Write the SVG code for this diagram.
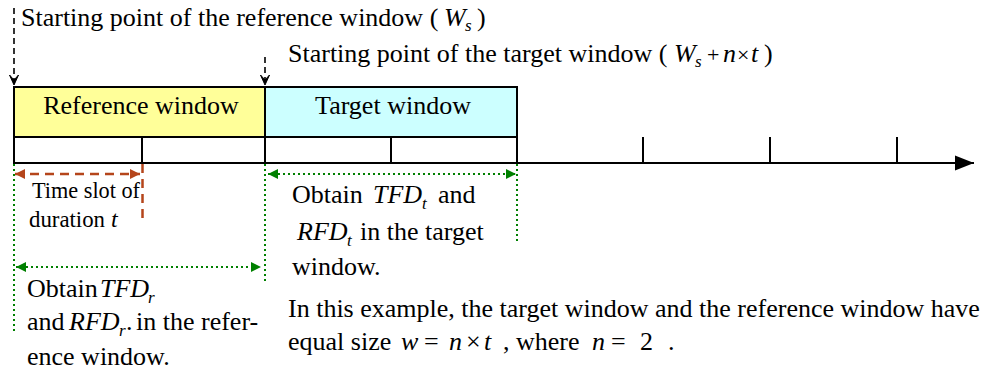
<svg xmlns="http://www.w3.org/2000/svg" width="984" height="376" viewBox="0 0 984 376">
<style>
text{font-family:'Liberation Serif',Tinos,'Times New Roman',Times,'DejaVu Serif',serif;font-size:26px;fill:#000}
.it{font-style:italic}
.sub{font-style:italic;font-size:17px}
.small{font-size:24px}
.box{stroke:#000;stroke-width:2}
.tick{stroke:#000;stroke-width:2}
.dash{stroke:#000;stroke-width:1.6;stroke-dasharray:6 4;fill:none}
.brown{stroke:#B5451B;stroke-width:2.5;stroke-dasharray:9 6;fill:none}
.green{stroke:#008000;stroke-width:2;stroke-dasharray:2 3;fill:none}
</style>
<defs>
<marker id="vArrowDown" markerUnits="userSpaceOnUse" markerWidth="12" markerHeight="14" refX="6" refY="12" viewBox="0 0 12 14">
<path d="M1.5,2 L6,12 L10.5,2 L6,7 Z" fill="#000" stroke="#000" stroke-width="1"/>
</marker>
<marker id="brownTri" markerUnits="userSpaceOnUse" markerWidth="11" markerHeight="10" refX="10" refY="5" orient="auto-start-reverse" viewBox="0 0 11 10">
<path d="M0,0 L10,5 L0,10 Z" fill="#B5451B"/>
</marker>
<marker id="greenTri" markerUnits="userSpaceOnUse" markerWidth="11" markerHeight="10" refX="10" refY="5" orient="auto-start-reverse" viewBox="0 0 11 10">
<path d="M0,0 L10,5 L0,10 Z" fill="#008000"/>
</marker>
<marker id="axisTri" markerUnits="userSpaceOnUse" markerWidth="20" markerHeight="16" refX="19" refY="8" orient="auto" viewBox="0 0 20 16">
<path d="M0,0.5 L19,8 L0,15.5 Z" fill="#000"/>
</marker>
</defs>

<g id="reference-window">
<rect class="box" x="14" y="87" width="251" height="50" fill="#FFFF99"/>
<text x="141" y="114" text-anchor="middle">Reference window</text>
</g>
<g id="target-window">
<rect class="box" x="265" y="87" width="252" height="50" fill="#CCFFFF"/>
<text x="393" y="114" text-anchor="middle">Target window</text>
</g>
<g id="time-slots">
<rect class="box" x="14" y="137" width="128" height="26" fill="#fff"/>
<rect class="box" x="142" y="137" width="123" height="26" fill="#fff"/>
<rect class="box" x="265" y="137" width="126" height="26" fill="#fff"/>
<rect class="box" x="391" y="137" width="126" height="26" fill="#fff"/>
</g>
<g id="time-axis">
<line x1="14" y1="163" x2="974" y2="163" stroke="#000" stroke-width="2" marker-end="url(#axisTri)"/>
<line class="tick" x1="643" y1="137" x2="643" y2="163"/>
<line class="tick" x1="770" y1="137" x2="770" y2="163"/>
<line class="tick" x1="897" y1="137" x2="897" y2="163"/>
</g>

<g id="connectors">
<line class="dash" x1="14" y1="8" x2="14" y2="85" marker-end="url(#vArrowDown)"/>
<line class="dash" x1="265" y1="57" x2="265" y2="85" marker-end="url(#vArrowDown)"/>
<line class="brown" x1="15" y1="174" x2="140" y2="174" marker-start="url(#brownTri)" marker-end="url(#brownTri)"/>
<line class="brown" x1="142.5" y1="164" x2="142.5" y2="224"/>
<line class="green" x1="14" y1="164" x2="14" y2="331"/>
<line class="green" x1="265" y1="164" x2="265" y2="284"/>
<line class="green" x1="517" y1="164" x2="517" y2="243"/>
<line class="green" x1="16" y1="267" x2="261" y2="267" marker-start="url(#greenTri)" marker-end="url(#greenTri)"/>
<line class="green" x1="268" y1="174" x2="516" y2="174" marker-start="url(#greenTri)" marker-end="url(#greenTri)"/>
</g>

<g id="label-ref-start">
<text x="21" y="26">Starting point of the reference window (<tspan class="it" x="444">W</tspan><tspan class="sub" x="465" dy="5">s</tspan><tspan x="477" dy="-5">)</tspan></text>
</g>
<g id="label-target-start">
<text x="288" y="62">Starting point of the target window (<tspan class="it" x="674">W</tspan><tspan class="sub" x="695" dy="5">s</tspan><tspan x="707" dy="-5" font-size="22">+</tspan><tspan class="it" x="723">n</tspan><tspan x="737" font-size="22">×</tspan><tspan class="it" x="751">t</tspan><tspan x="764">)</tspan></text>
</g>
<g id="label-time-slot">
<text class="small" x="32" y="198" textLength="108" lengthAdjust="spacingAndGlyphs">Time slot of</text>
<text class="small" x="29" y="227" textLength="76" lengthAdjust="spacingAndGlyphs">duration</text>
<text class="small it" x="111" y="227">t</text>
</g>
<g id="label-ref-obtain">
<text x="27" y="297">Obtain<tspan class="it" x="100">TFD</tspan><tspan class="sub" x="148" dy="6">r</tspan></text>
<text x="27" y="330">and <tspan class="it" x="69">RFD</tspan><tspan class="sub" x="119" dy="6">r</tspan><tspan x="126" dy="-6">.</tspan><tspan x="136">in the refer-</tspan></text>
<text x="27" y="365">ence window.</text>
</g>
<g id="label-target-obtain">
<text x="292" y="203">Obtain <tspan class="it" x="373">TFD</tspan><tspan class="sub" x="422" dy="6">t</tspan><tspan x="438" dy="-6">and</tspan></text>
<text x="297" y="240"><tspan class="it">RFD</tspan><tspan class="sub" x="347" dy="6">t</tspan><tspan x="360" dy="-6">in the target</tspan></text>
<text x="292" y="275">window.</text>
</g>
<g id="label-example">
<text x="288" y="317">In this example, the target window and the reference window have</text>
<text x="288" y="350">equal size <tspan class="it" x="401">w</tspan><tspan x="424">=</tspan><tspan class="it" x="449">n</tspan><tspan x="466">×</tspan><tspan class="it" x="484">t</tspan><tspan x="503">, where</tspan><tspan class="it" x="592">n</tspan><tspan x="611">=</tspan><tspan x="640">2</tspan><tspan x="668">.</tspan></text>
</g>
</svg>
